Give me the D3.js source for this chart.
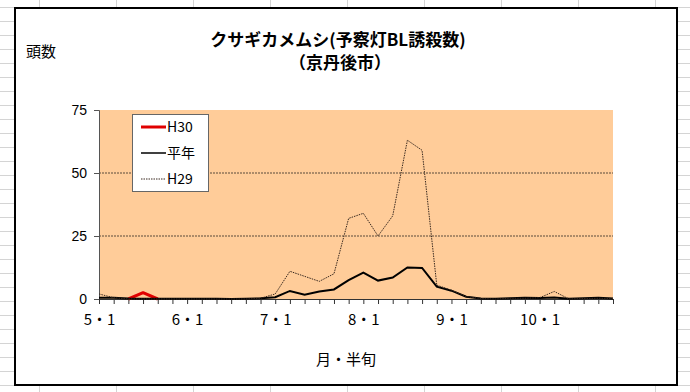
<!DOCTYPE html>
<html><head><meta charset="utf-8">
<script src="https://cdn.jsdelivr.net/npm/d3@7"></script>
<style>body{margin:0;background:#fff;}svg{display:block;}</style>
</head><body><svg id="c" width="690" height="392"></svg>
<script>
const months = ["5・1","6・1","7・1","8・1","9・1","10・1"];
const periodsPerMonth = 6;
const categories = d3.range(36);
const yTicks = [0,25,50,75];
const seriesNames = ["H30","平年","H29"];
const h30 = [null,null,0,2.5,0,null,null,null,null,null,null,null,null,null,null,null,null,null,null,null,null,null,null,null,null,null,null,null,null,null,null,null,null,null,null,null];
const heinen = [0.5,0.5,0.2,0.1,0.1,0.1,0.1,0.1,0.1,0,0.1,0.3,0.7,3.2,1.7,3.0,3.8,7.5,10.5,7.3,8.5,12.5,12.3,4.9,3.3,0.9,0.2,0.1,0.3,0.5,0.4,0.6,0.1,0.3,0.5,0.2];
const h29 = [2.0,0.5,0,0,0,0,0,0,0,0,0,0.3,2.0,11,9,7,10,32,34,25,33,63,59,5.5,3.5,1,0.2,0,0.3,0.3,0.5,3,0,0.2,0.3,0.2];

const svg = d3.select("#c");
const W=690,H=392;
const jp = "'Noto Sans CJK JP','Noto Sans',sans-serif";

// spreadsheet grid background
const bg = svg.append("g");
for(let x=39;x<W;x+=77) bg.append("line").attr("x1",x+0.5).attr("x2",x+0.5).attr("y1",0).attr("y2",H).attr("stroke","#d4d4d4");
for(let y=7.5;y<H;y+=14) bg.append("line").attr("x1",0).attr("x2",W).attr("y1",y).attr("y2",y).attr("stroke","#d4d4d4");

// chart area
svg.append("rect").attr("x",16).attr("y",9).attr("width",662).attr("height",377).attr("fill","#bbb");
svg.append("rect").attr("x",15).attr("y",8).attr("width",662).attr("height",377).attr("fill","#fff").attr("stroke","#000").attr("stroke-width",2);

const x = d3.scaleLinear().domain([0,35]).range([99,613]);
const y = d3.scaleLinear().domain([0,75]).range([299,110]);

svg.append("rect").attr("x",x(0)).attr("y",y(75)).attr("width",x(35)-x(0)).attr("height",y(0)-y(75)).attr("fill","#FFCC99");

// gridlines
svg.append("g").selectAll("line").data([25,50]).join("line")
  .attr("x1",x(0)).attr("x2",x(35)).attr("y1",d=>y(d)).attr("y2",d=>y(d))
  .attr("stroke","#5a4a3a").attr("stroke-width",1).attr("stroke-dasharray","2,1");

// axes
const yAxis = svg.append("g").attr("transform",`translate(${x(0)},0)`)
  .call(d3.axisLeft(y).tickValues(yTicks).tickSize(5).tickPadding(7));
yAxis.select(".domain").attr("stroke","#555");
yAxis.selectAll(".tick line").attr("stroke","#555");
yAxis.selectAll("text").attr("font-family","'Liberation Sans',Arial,sans-serif").attr("font-size",14).attr("fill","#000");

const xAxis = svg.append("g").attr("transform",`translate(0,${y(0)})`)
  .call(d3.axisBottom(x).tickValues(categories).tickSize(5).tickFormat(d=> d%periodsPerMonth===0 ? months[d/periodsPerMonth] : "").tickPadding(10));
xAxis.select(".domain").attr("stroke","#333");
xAxis.selectAll(".tick line").attr("stroke","#333");
xAxis.selectAll("text").attr("font-family",jp).attr("font-size",15).attr("fill","#000");

// lines
const line = d3.line().defined(d=>d!=null).x((d,i)=>x(i)).y(d=>y(d));
svg.append("path").datum(h30).attr("d",line).attr("fill","none").attr("stroke","#e00000").attr("stroke-width",3).attr("stroke-linejoin","round");
svg.append("path").datum(heinen).attr("d",line).attr("fill","none").attr("stroke","#000").attr("stroke-width",2);
svg.append("path").datum(h29).attr("d",line).attr("fill","none").attr("stroke","#3a2a20").attr("stroke-width",1).attr("stroke-dasharray","1.5,1");

// legend
const lg = svg.append("g");
lg.append("rect").attr("x",132.5).attr("y",114.5).attr("width",76).attr("height",77).attr("fill","#fff").attr("stroke","#666");
const ly = [127,153,179];
const styles = [{c:"#e00000",w:3,d:null},{c:"#000",w:1.5,d:null},{c:"#3a2a20",w:1,d:"1.5,1"}];
seriesNames.forEach((n,i)=>{
  lg.append("line").attr("x1",141).attr("x2",166).attr("y1",ly[i]).attr("y2",ly[i])
    .attr("stroke",styles[i].c).attr("stroke-width",styles[i].w).attr("stroke-dasharray",styles[i].d);
  lg.append("text").attr("x",167).attr("y",ly[i]).attr("dy","0.36em").attr("font-family",jp).attr("font-size",14).text(n);
});

// titles
svg.append("text").attr("x",338).attr("y",41).attr("text-anchor","middle").attr("dominant-baseline","middle")
  .attr("font-family",jp).attr("font-weight","bold").attr("font-size",17).text("クサギカメムシ(予察灯BL誘殺数)");
svg.append("text").attr("x",340).attr("y",64).attr("text-anchor","middle").attr("dominant-baseline","middle")
  .attr("font-family",jp).attr("font-weight","bold").attr("font-size",17).text("（京丹後市）");
svg.append("text").attr("x",41).attr("y",53).attr("text-anchor","middle").attr("dominant-baseline","middle")
  .attr("font-family",jp).attr("font-size",15).text("頭数");
svg.append("text").attr("x",346).attr("y",361).attr("text-anchor","middle").attr("dominant-baseline","middle")
  .attr("font-family",jp).attr("font-size",15).text("月・半旬");
</script></body></html>
